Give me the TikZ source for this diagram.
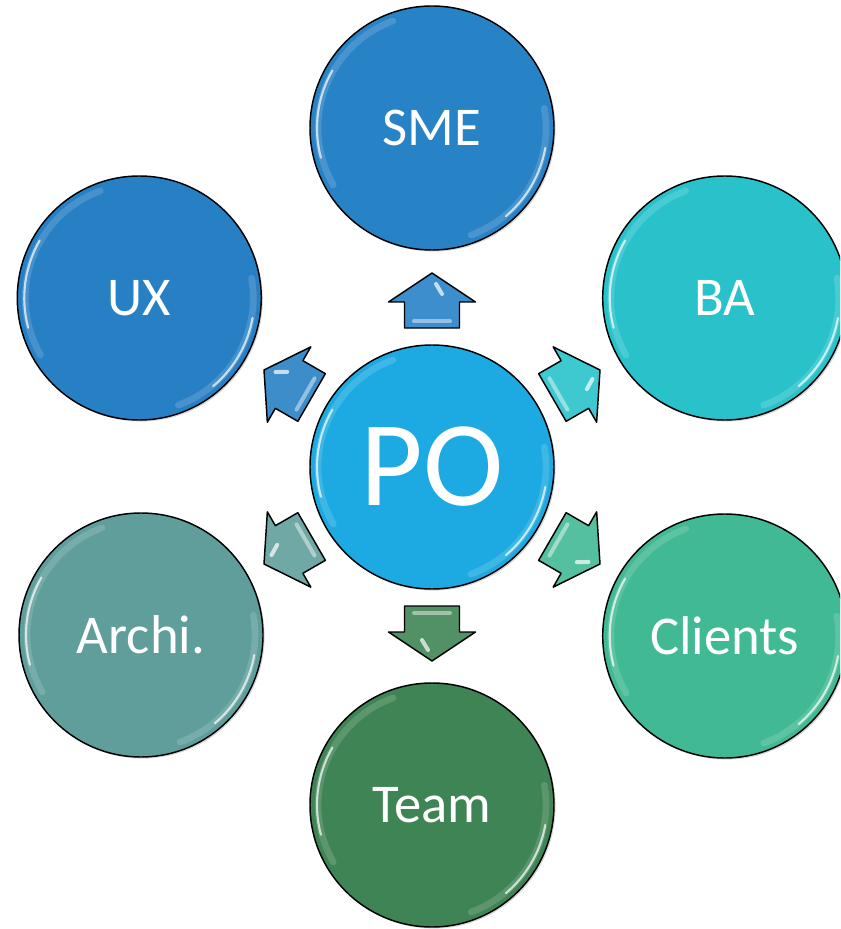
\documentclass[tikz,border=0pt]{standalone}
\usepackage{fontspec}
\setmainfont{Carlito}
\usepackage{tikz}
\usetikzlibrary{shadows}
\definecolor{smeblue}{RGB}{40,130,198}
\definecolor{uxblue}{RGB}{39,128,196}
\definecolor{bateal}{RGB}{41,194,203}
\definecolor{clgreen}{RGB}{65,185,148}
\definecolor{tmgreen}{RGB}{63,132,84}
\definecolor{archgrey}{RGB}{95,158,154}
\definecolor{pocyan}{RGB}{29,170,226}

\tikzset{
  pics/blkarr/.style={code={
    \draw[arrline, fill=#1] (0,-27.5) -- (26,-27.5) -- (26,-43.5) -- (55,0)
      -- (26,43.5) -- (26,27.5) -- (0,27.5) -- cycle;
    % bevel highlights
    \draw[white, opacity=.45, line width=3, line cap=round] (7,-18) -- (7,18);
    \draw[white, opacity=.7, line width=3, line cap=round] (34,-10) -- (44,-4);
  }}
}

\begin{document}
\begin{tikzpicture}[
  x=0.75pt, y=0.75pt,
  ball/.style={circle, draw=black, line width=1.1pt, minimum size=183pt, inner sep=0pt,
    text=white, font=\fontsize{41}{43}\selectfont,
    drop shadow={shadow xshift=1.2pt, shadow yshift=-1.2pt, opacity=.3}},
  arrline/.style={draw=black, line width=1.1pt, line join=round},
  gloss/.style={white, line cap=round},
]
\clip (-432,-462) rectangle (408,467);
% hub and the six roles round it
\node[ball, fill=pocyan, font=\fontsize{91}{93}\selectfont] (po) at (0,0) {PO};
\node[ball, fill=smeblue] (sme) at (90:339) {SME};
\node[ball, fill=uxblue] (ux) at (150:338) {UX};
\node[ball, fill=bateal] (ba) at (30:338) {BA};
\node[ball, fill=archgrey] (archi) at (210:336) {Archi.};
\node[ball, fill=clgreen] (clients) at (330:338) {Clients};
\node[ball, fill=tmgreen] (team) at (270:338) {Team};
% glassy rims
\foreach \n in {po,sme,ux,ba,archi,clients,team}{
  \draw[gloss, opacity=.15, line width=5] (\n.center) ++(110:114) arc[start angle=110, end angle=210, radius=114];
  \draw[gloss, opacity=.7, line width=1.6] (\n.center) ++(150:115) arc[start angle=150, end angle=195, radius=115];
  \draw[gloss, opacity=.15, line width=5] (\n.center) ++(-70:114) arc[start angle=-70, end angle=10, radius=114];
  \draw[gloss, opacity=.7, line width=1.6] (\n.center) ++(-50:115) arc[start angle=-50, end angle=-10, radius=115];
}
% block arrows out of the hub
\pic[rotate=90] at (90:139) {blkarr=smeblue!90!white};
\pic[rotate=150] at (150:139) {blkarr=uxblue!90!white};
\pic[rotate=30] at (30:139) {blkarr=bateal!90!white};
\pic[rotate=210] at (210:139) {blkarr=archgrey!90!white};
\pic[rotate=330] at (330:139) {blkarr=clgreen!90!white};
\pic[rotate=270] at (270:139) {blkarr=tmgreen!90!white};
\end{tikzpicture}
\end{document}
